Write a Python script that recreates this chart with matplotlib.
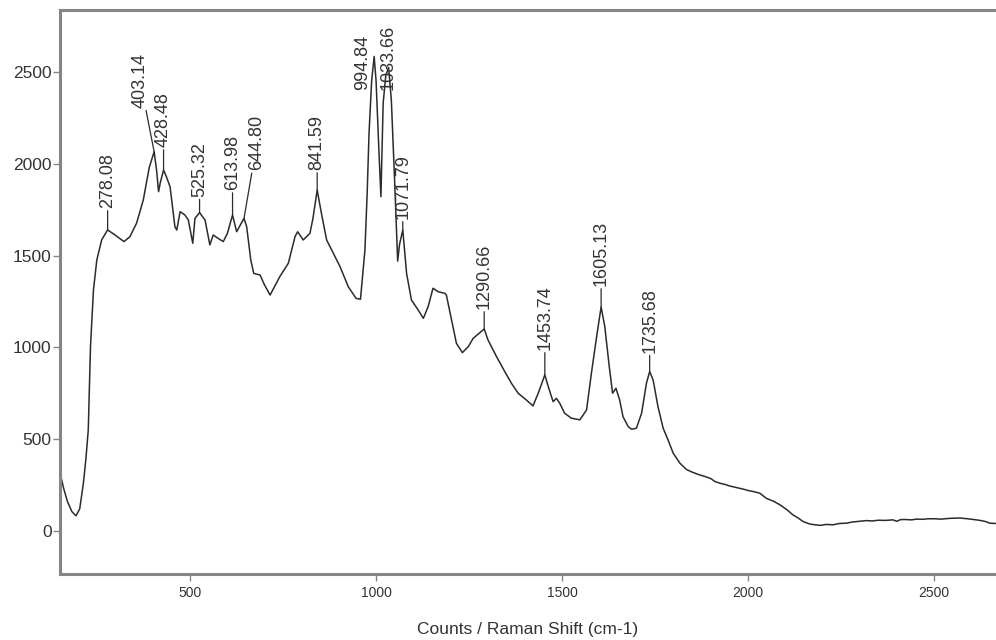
"""Raman spectrum with the picked peak positions written over each band.
Saves the plot to out.png.
"""

import matplotlib

matplotlib.use("Agg")  # headless: save to file only
import matplotlib.pyplot as plt

# Raman shift (cm-1) and counts (rows line up)
shift = [
    150, 160, 170, 182, 193, 203, 213, 220, 226, 232,
    240, 249, 262, 278.08, 298, 322, 338, 356, 374, 390,
    403.14, 410, 415, 420, 428.48, 436, 446, 459, 464, 473,
    486, 495, 507, 513, 525.32, 540, 553, 562, 575, 589,
    600, 613.98, 625, 633, 644.80, 652, 663, 671, 688, 700,
    715, 741, 764, 782, 789, 804, 822, 830, 841.59, 853,
    867, 885, 903, 925, 946, 958, 970, 976, 981, 988,
    994.84, 1000, 1007, 1013, 1019, 1026, 1033.66, 1041, 1050, 1058,
    1063, 1071.79, 1082, 1095, 1113, 1127, 1140, 1153, 1167, 1185,
    1189, 1203, 1216, 1232, 1248, 1261, 1290.66, 1301, 1324, 1346,
    1364, 1382, 1404, 1422, 1436, 1453.74, 1463, 1476, 1485, 1494,
    1507, 1525, 1548, 1566, 1579, 1593, 1605.13, 1615, 1627, 1636,
    1645, 1655, 1664, 1678, 1687, 1700, 1714, 1727, 1735.68, 1745,
    1758, 1772, 1785, 1799, 1817, 1834, 1850, 1870, 1885, 1900,
    1912, 1924, 1940, 1950, 1965, 1978, 1990, 2000, 2015, 2032,
    2049, 2070, 2086, 2105, 2121, 2135, 2148, 2165, 2180, 2195,
    2210, 2229, 2245, 2265, 2280, 2300, 2318, 2335, 2350, 2370,
    2390, 2400, 2410, 2420, 2440, 2453, 2470, 2485, 2500, 2520,
    2535, 2551, 2570, 2590, 2614, 2630, 2640, 2650, 2667,
]
counts = [
    316, 230, 160, 105, 82, 120, 261, 400, 550, 1004,
    1313, 1476, 1585, 1640, 1612, 1576, 1603, 1677, 1803, 1980,
    2066, 1960, 1848, 1900, 1966, 1930, 1875, 1657, 1639, 1739,
    1721, 1694, 1567, 1703, 1734, 1694, 1558, 1612, 1594, 1576,
    1620, 1721, 1630, 1660, 1703, 1657, 1476, 1403, 1394, 1340,
    1285, 1385, 1458, 1603, 1630, 1585, 1621, 1700, 1857, 1730,
    1585, 1512, 1440, 1331, 1267, 1262, 1530, 1839, 2166, 2450,
    2585, 2450, 2100, 1821, 2330, 2480, 2525, 2348, 1900, 1470,
    1560, 1640, 1403, 1258, 1204, 1158, 1222, 1322, 1303, 1294,
    1285, 1149, 1022, 971, 1004, 1049, 1100, 1040, 949, 868,
    804, 750, 713, 681, 750, 850, 786, 704, 722, 695,
    641, 614, 605, 659, 859, 1058, 1220, 1113, 895, 750,
    777, 713, 622, 568, 554, 559, 641, 804, 868, 822,
    677, 559, 496, 423, 369, 335, 320, 305, 296, 285,
    268, 260, 252, 245, 238, 232, 226, 220, 214, 205,
    178, 160, 142, 115, 87, 70, 51, 38, 33, 30,
    35, 33, 40, 42, 48, 52, 56, 54, 58, 57,
    60, 52, 61, 62, 60, 64, 63, 66, 66, 64,
    67, 69, 70, 66, 60, 55, 50, 42, 40,
]

peak_shift = [
    278.08, 403.14, 428.48, 525.32, 613.98, 644.80, 841.59, 994.84, 1033.66,
    1071.79, 1290.66, 1453.74, 1605.13, 1735.68,
]

# where each peak label sits relative to its peak, in pixels (dx, dy up)
LABEL_OFFSET = {
    278.08: (0, 22), 403.14: (-14, 44), 428.48: (0, 23), 525.32: (0, 16),
    613.98: (0, 25), 644.80: (13, 48), 841.59: (0, 20), 994.84: (-12, -34),
    1033.66: (0, -23), 1071.79: (0, 11), 1290.66: (0, 20), 1453.74: (0, 25),
    1605.13: (0, 21), 1735.68: (0, 19),
}

LINE = "#2b2b2b"
TEXT = "#333333"
FRAME = "#858585"
PX = 0.72  # points per pixel at dpi 100


def main():
    plt.rcParams["font.family"] = ["Liberation Sans", "DejaVu Sans"]

    fig = plt.figure(figsize=(9.96, 6.4), dpi=100)
    ax = fig.add_axes([60 / 996, 1 - 574 / 640, 936 / 996, 564 / 640])
    ax.plot(shift, counts, color=LINE, lw=1.1)

    for p in peak_shift:
        c = counts[shift.index(p)]
        dx, dy = LABEL_OFFSET[p]
        arrow = None
        if dy > 0:
            arrow = dict(arrowstyle="-", color=LINE, lw=0.9, shrinkA=0, shrinkB=0)
        ax.annotate(f"{p:.2f}", xy=(p, c), xytext=(dx * PX, dy * PX),
                    textcoords="offset points", rotation=90, ha="center",
                    va="bottom", fontsize=13, color=TEXT, arrowprops=arrow)

    ax.set_xlim(150, 2667)
    ax.set_ylim(-235, 2838)
    ax.set_xticks([500, 1000, 1500, 2000, 2500])
    ax.set_yticks([0, 500, 1000, 1500, 2000, 2500])

    for side in ("left", "top", "bottom"):
        ax.spines[side].set_color(FRAME)
        ax.spines[side].set_linewidth(2.2)
    ax.spines["right"].set_visible(False)

    ax.tick_params(axis="both", direction="out", color=FRAME, length=5,
                   width=1, labelcolor=TEXT)
    ax.tick_params(axis="y", labelsize=12.5, pad=1)
    ax.tick_params(axis="x", labelsize=10, pad=3.5)
    ax.set_xlabel("Counts / Raman Shift (cm-1)", fontsize=12.5, color=TEXT,
                  labelpad=16)

    fig.savefig("out.png", dpi=100)


if __name__ == "__main__":
    main()
